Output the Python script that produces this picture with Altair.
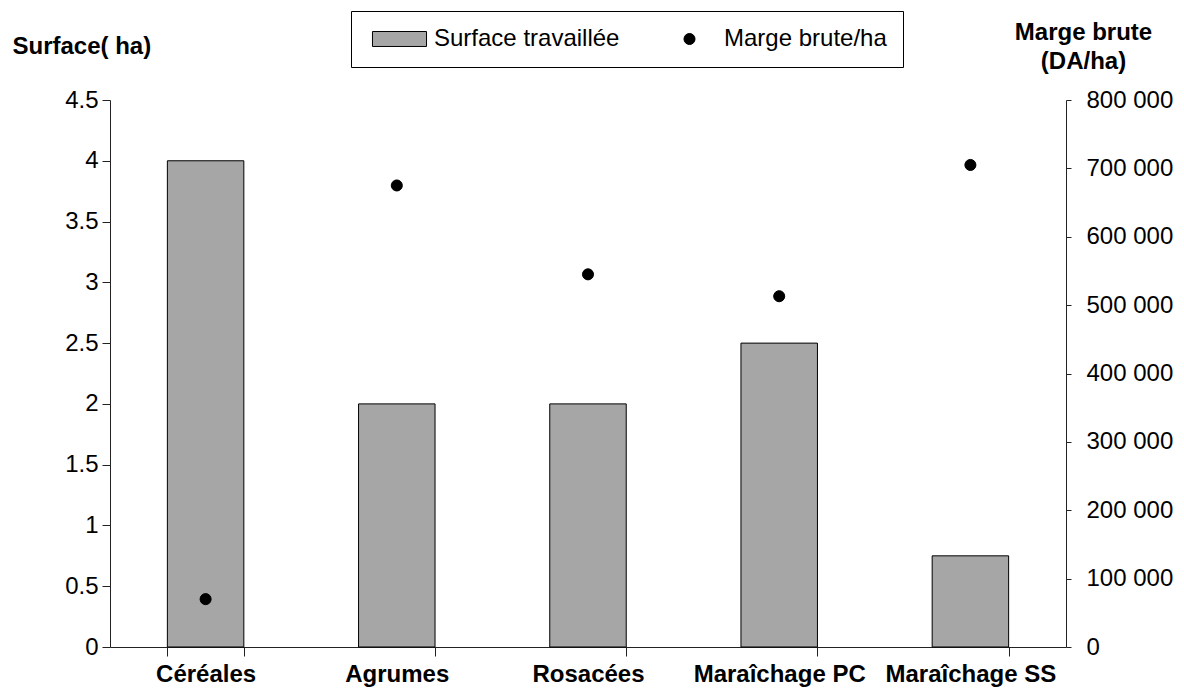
import altair as alt
import pandas as pd

categories = ["Céréales", "Agrumes", "Rosacées", "Maraîchage PC", "Maraîchage SS"]
surface = [4.0, 2.0, 2.0, 2.5, 0.75]
marge = [70000, 675000, 545000, 513000, 705000]
left_ticks = [0, 0.5, 1, 1.5, 2, 2.5, 3, 3.5, 4, 4.5]
right_ticks = [0, 100000, 200000, 300000, 400000, 500000, 600000, 700000, 800000]
series_names = ["Surface travaillée", "Marge brute/ha"]

df = pd.DataFrame({
    "cat": categories,
    "surface": surface,
    "marge": marge,
    "series": ["Marge brute/ha"] * len(categories),
})

FONT = "Liberation Sans"
FS = 24
AX = "#222222"
# symbol paths drawn in a 14px unit (symbol size 196)
RECT = "M-3.86,-1.07L3.86,-1.07L3.86,1.07L-3.86,1.07Z"
DOT = "M-0.79,0A0.79,0.79,0,1,1,0.79,0A0.79,0.79,0,1,1,-0.79,0Z"

x_enc = alt.X(
    "cat:N", sort=categories,
    scale=alt.Scale(paddingInner=0.6, paddingOuter=0.3),
    axis=alt.Axis(
        title=None, labelAngle=0, labelFont=FONT, labelFontSize=FS,
        labelFontWeight="bold", labelColor="black", labelLimit=400,
        labelOverlap=False, tickBand="extent", tickSize=9, tickColor=AX,
        domainColor=AX, labelPadding=6, grid=False,
    ),
)

leg = alt.Legend(
    title=None, orient="none", legendX=241, legendY=-89, direction="horizontal",
    strokeColor="black", fillColor="white", padding=16, symbolOffset=20.5,
    labelFont=FONT, labelFontSize=FS, labelColor="black", labelOffset=22.5,
    labelLimit=400, columnPadding=37, symbolSize=196,
    symbolStrokeColor="black", symbolStrokeWidth=1, symbolOpacity=1,
)

bars = alt.Chart(df).mark_bar(color="#a6a6a6", stroke="black", strokeWidth=1).encode(
    x=x_enc,
    y=alt.Y(
        "surface:Q",
        scale=alt.Scale(domain=[0, 4.5], nice=False),
        axis=alt.Axis(
            orient="left", values=left_ticks, format="~g", grid=False,
            title="Surface( ha)", titleAngle=0, titleX=-98, titleY=-47,
            titleAlign="left", titleBaseline="alphabetic", titleFont=FONT,
            titleFontSize=FS, titleFontWeight="bold", titleColor="black",
            labelFont=FONT, labelFontSize=FS, labelColor="black",
            tickSize=8, tickColor=AX, domainColor=AX, labelPadding=4,
        ),
    ),
)

points = alt.Chart(df).mark_point(
    filled=True, size=196, opacity=1, strokeWidth=1
).encode(
    x=x_enc,
    y=alt.Y(
        "marge:Q",
        scale=alt.Scale(domain=[0, 800000], nice=False),
        axis=alt.Axis(
            orient="right", values=right_ticks, grid=False,
            labelExpr="replace(format(datum.value, ','), regexp(',', 'g'), ' ')",
            title=["Marge brute", "(DA/ha)"], titleAngle=0, titleX=17, titleY=-61,
            titleAlign="center", titleBaseline="alphabetic", titleLineHeight=29,
            titleFont=FONT, titleFontSize=FS, titleFontWeight="bold",
            titleColor="black", labelFont=FONT, labelFontSize=FS,
            labelColor="black", tickSize=5, tickColor=AX, domainColor=AX,
            labelPadding=15,
        ),
    ),
    color=alt.Color("series:N", scale=alt.Scale(domain=series_names, range=["#a6a6a6", "black"]), legend=leg),
    shape=alt.Shape("series:N", scale=alt.Scale(domain=series_names, range=[RECT, DOT]), legend=leg),
    stroke=alt.Stroke("series:N", scale=alt.Scale(domain=series_names, range=["black", "black"]), legend=leg),
)

chart = alt.layer(bars, points).resolve_scale(y="independent").properties(
    width=956, height=547,
    autosize=alt.AutoSizeParams(type="none"),
    padding={"left": 102, "top": 92, "right": 108, "bottom": 43},
    background="white",
).configure_view(stroke=None)

chart.save("out.html", embed_options={"renderer": "svg", "actions": False})
